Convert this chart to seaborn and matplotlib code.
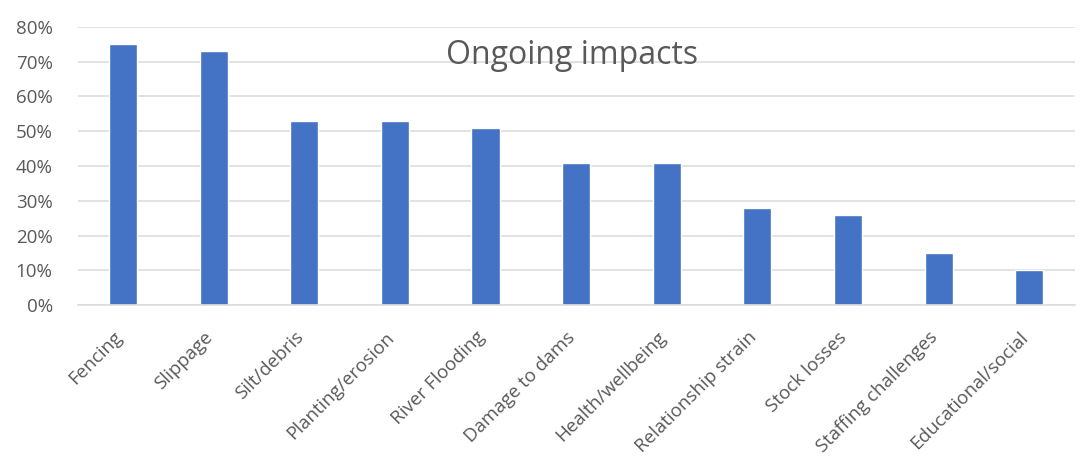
import pandas as pd
import matplotlib.pyplot as plt
import matplotlib.transforms as mtransforms
import seaborn as sns
from matplotlib.ticker import PercentFormatter

# data
categories = ['Fencing', 'Slippage', 'Silt/debris', 'Planting/erosion', 'River Flooding',
              'Damage to dams', 'Health/wellbeing', 'Relationship strain', 'Stock losses',
              'Staffing challenges', 'Educational/social']
shares = [0.75, 0.73, 0.53, 0.53, 0.51, 0.41, 0.41, 0.28, 0.26, 0.15, 0.10]

df = pd.DataFrame({'impact': categories, 'share': shares})

sns.set_style('white')
plt.rcParams['font.family'] = ['Open Sans', 'DejaVu Sans']

fig = plt.figure(figsize=(10.86, 4.63), dpi=100)
ax = fig.add_axes([0.0715, 0.341, 0.918, 0.601])

sns.barplot(data=df, x='impact', y='share', color='#4472C4', saturation=1,
            width=0.31, ax=ax, zorder=3)

ax.set_ylim(0, 0.8)
ax.set_yticks([i / 10 for i in range(9)])
ax.yaxis.set_major_formatter(PercentFormatter(1.0, decimals=0))
ax.grid(axis='y', color='#DDDDDD', linewidth=1.2, zorder=0)
sns.despine(ax=ax, left=True, top=True, right=True, bottom=False)
ax.spines['bottom'].set_color('#DDDDDD')
ax.spines['bottom'].set_linewidth(1.2)
ax.spines['bottom'].set_zorder(4)

ax.set_xlabel('')
ax.set_ylabel('')
ax.tick_params(axis='both', length=0, colors='#595959')
ax.tick_params(axis='y', pad=18, labelsize=13.5)
ax.tick_params(axis='x', pad=8, labelsize=13.5)

# nudge rotated labels down-left like the original
shift = mtransforms.ScaledTranslation(-10 / 100, -12 / 100, fig.dpi_scale_trans)
for lbl in ax.get_xticklabels():
    lbl.set_rotation(45)
    lbl.set_ha('right')
    lbl.set_rotation_mode('anchor')
    lbl.set_transform(lbl.get_transform() + shift)

fig.text(0.527, 0.88, 'Ongoing impacts', ha='center', va='center',
         fontsize=23, color='#595959')

fig.savefig('out.png', dpi=100)
